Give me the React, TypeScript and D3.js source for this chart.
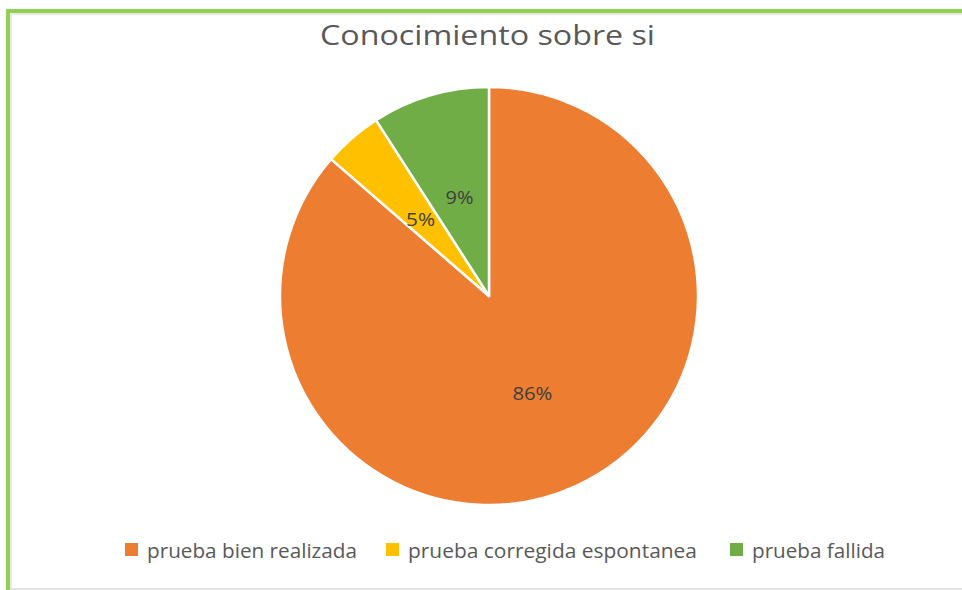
import React from "react";
import * as d3 from "d3";

const categories = ["prueba bien realizada", "prueba corregida espontanea", "prueba fallida"];
const counts = [19, 1, 2];
const colors = ["#ED7D31", "#FFC000", "#70AD47"];
const title = "Conocimiento sobre si";

const W = 962;
const H = 590;
const cx = 489;
const cy = 296;
const R = 209;
const font = "'Open Sans', 'DejaVu Sans', sans-serif";

export default function App() {
  const total = d3.sum(counts);
  const pie = d3.pie<number>().sort(null).value((d) => d).startAngle(0).endAngle(2 * Math.PI);
  const arcs = pie(counts);
  const arc = d3.arc<d3.PieArcDatum<number>>().innerRadius(0).outerRadius(R);
  const labelArc = d3.arc<d3.PieArcDatum<number>>().innerRadius(R * 0.5).outerRadius(R * 0.5);
  const fmt = d3.format(".0%");

  const legendX = [125, 386, 730];
  const legendW = [210, 289, 133];
  const labelW = [40, 29, 28];

  return (
    <svg width={W} height={H} style={{ position: "absolute", left: 0, top: 0 }}>
      <rect x={0} y={0} width={W} height={H} fill="#ffffff" />
      {/* frame */}
      <rect x={10} y={13} width={W - 10} height={2} fill="#e8e8e8" />
      <rect x={10} y={13} width={2} height={H - 13} fill="#e8e8e8" />
      <rect x={6} y={9} width={W - 6} height={4} fill="#92D050" />
      <rect x={6} y={9} width={4} height={H - 9} fill="#92D050" />
      <rect x={10} y={588} width={W - 10} height={2} fill="#e4e4e4" />

      <text x={320} y={45} textLength={335} lengthAdjust="spacingAndGlyphs" fontFamily={font} fontSize={27} fill="#595959">
        {title}
      </text>

      <g transform={`translate(${cx},${cy})`}>
        {arcs.map((a, i) => (
          <path key={i} d={arc(a) || ""} fill={colors[i]} stroke="#ffffff" strokeWidth={2.5} strokeLinejoin="round" />
        ))}
        {arcs.map((a, i) => {
          const [x, y] = labelArc.centroid(a);
          return (
            <text
              key={"l" + i}
              x={x - labelW[i] / 2}
              y={y + 1}
              textLength={labelW[i]}
              lengthAdjust="spacingAndGlyphs"
              dominantBaseline="central"
              fontFamily={font}
              fontSize={18.5}
              fill="#404040"
            >
              {fmt(counts[i] / total)}
            </text>
          );
        })}
      </g>

      {categories.map((c, i) => (
        <g key={"lg" + i}>
          <rect x={legendX[i]} y={543} width={13} height={13} fill={colors[i]} />
          <text
            x={legendX[i] + 22}
            y={558}
            textLength={legendW[i]}
            lengthAdjust="spacingAndGlyphs"
            fontFamily={font}
            fontSize={20}
            fill="#595959"
          >
            {c}
          </text>
        </g>
      ))}
    </svg>
  );
}
